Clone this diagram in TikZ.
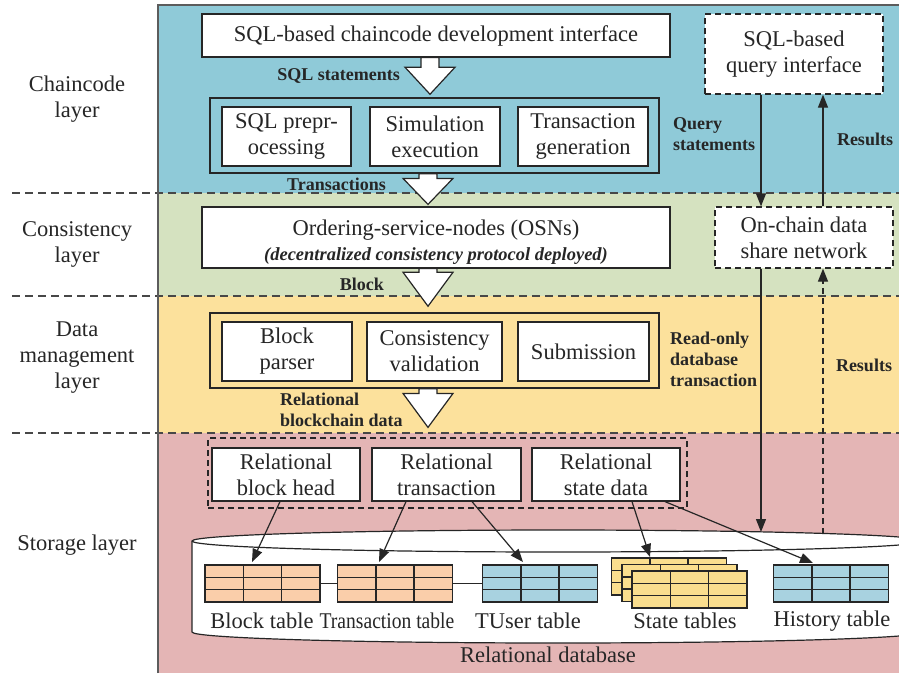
\documentclass[tikz,border=0pt]{standalone}
\usepackage{fontspec}
\setmainfont{Liberation Serif}
\usetikzlibrary{calc,arrows.meta}

\definecolor{chainbg}{RGB}{143,202,216}
\definecolor{consbg}{RGB}{213,226,192}
\definecolor{mgmtbg}{RGB}{252,225,156}
\definecolor{storebg}{RGB}{228,181,181}
\definecolor{peach}{RGB}{250,206,170}
\definecolor{skyblue}{RGB}{168,210,224}
\definecolor{straw}{RGB}{250,222,142}
\definecolor{ink}{RGB}{38,38,38}

% white block arrow pointing down: #1 shaft top, #2 tip, #3 head length
\newcommand\bigdownarrow[3]{%
  \draw[bigarrow] ($(#1)+(-9,0)$) -- ($(#2)+(-9,-#3)$) -- ($(#2)+(-25,-#3)$)
    -- (#2) -- ($(#2)+(25,-#3)$) -- ($(#2)+(9,-#3)$) -- ($(#1)+(9,0)$) -- cycle;}

\begin{document}
\begin{tikzpicture}[x=1pt,y=-1pt,
  every node/.style={text=ink},
  mainfont/.style={font=\fontsize{22.5}{26}\selectfont},
  box/.style={draw=ink, fill=white, line width=1.2pt, align=center, inner sep=0pt, mainfont},
  dbox/.style={box, dash pattern=on 6pt off 4pt},
  grpbox/.style={draw=ink, line width=1.5pt, inner sep=0pt},
  dgrpbox/.style={draw=ink, line width=1.2pt, dash pattern=on 6pt off 4pt, inner sep=0pt},
  boldtag/.style={font=\fontsize{18}{21}\selectfont\bfseries, inner sep=0pt, align=left},
  layerlbl/.style={mainfont, align=center, inner sep=0pt},
  plainlbl/.style={mainfont, inner sep=0pt},
  layerline/.style={draw=ink!85, line width=1.2pt, dash pattern=on 8pt off 5pt},
  arr/.style={draw=ink, line width=1.2pt, -{Triangle[length=13pt,width=10pt]}},
  darr/.style={arr, dash pattern=on 6pt off 4pt},
  bigarrow/.style={draw=ink, fill=white, line width=1.2pt, line join=miter},
  tbl/.style={draw=ink, line width=1.4pt, minimum width=115, minimum height=37,
    inner sep=0pt, outer sep=0pt,
    path picture={
      \foreach \f in {1,2}{
        \draw[ink, line width=1.4pt]
          ($(path picture bounding box.north west)!\f/3!(path picture bounding box.north east)$) --
          ($(path picture bounding box.south west)!\f/3!(path picture bounding box.south east)$);
        \draw[ink, line width=1.4pt]
          ($(path picture bounding box.north west)!\f/3!(path picture bounding box.south west)$) --
          ($(path picture bounding box.north east)!\f/3!(path picture bounding box.south east)$);
      }}},
]
\useasboundingbox (0,0) rectangle (899,673);

\begin{scope}
  \clip (0,0) rectangle (899,673);
  % layer bands
  \fill[chainbg] (158,5) rectangle (899,193);
  \fill[consbg]  (158,193) rectangle (899,296);
  \fill[mgmtbg]  (158,296) rectangle (899,433);
  \fill[storebg] (158,433) rectangle (899,673);
  % layer separators
  \draw[layerline] (12,193) -- (899,193);
  \draw[layerline] (12,296) -- (899,296);
  \draw[layerline] (12,433) -- (899,433);
  % panel frame
  \draw[ink!75, line width=1.4pt] (158,673) -- (158,5) -- (899,5);
  % relational database cylinder
  \filldraw[fill=white, draw=ink, line width=1.2pt]
    (192,541) -- (192,632) arc[start angle=180, end angle=0, x radius=366, y radius=11]
    -- (924,541) arc[start angle=0, end angle=-180, x radius=366, y radius=11] -- cycle;
  \draw[ink, line width=1.2pt] (192,541) arc[start angle=180, end angle=0, x radius=366, y radius=11];
\end{scope}
\coordinate (dbq) at (761,532);
\coordinate (dbr) at (823,533.5);
\coordinate (qx) at (761,0);
\coordinate (rx) at (823,0);

% layer names
\node[layerlbl] (lchain) at (77,99) {Chaincode\\layer};
\node[layerlbl] (lcons)  at (77,244) {Consistency\\layer};
\node[layerlbl] (ldata)  at (77,358) {Data\\management\\layer};
\node[layerlbl] (lstore) at (77,545) {Storage layer};

% chaincode layer
\node[box, minimum width=468, minimum height=43] (devif) at (436,35.5) {SQL-based chaincode development interface};
\node[grpbox, minimum width=449, minimum height=75] (grp1) at (434.5,135.5) {};
\node[box, minimum width=129, minimum height=59] (sqlpre) at (286.5,136.5) {SQL prepr-\\ocessing};
\node[box, minimum width=130, minimum height=59] (simexe) at (435,136.5) {Simulation\\execution};
\node[box, minimum width=130, minimum height=59] (txgen)  at (583,136.5) {Transaction\\generation};
\node[dbox, minimum width=178, minimum height=80] (query) at (794,54) {SQL-based\\query interface};

% consistency layer
\node[box, minimum width=468, minimum height=61] (osn) at (436,237.5) {};
\node[plainlbl] (osnname) at (436,230) {Ordering-service-nodes (OSNs)};
\node[inner sep=0pt, font=\fontsize{18.5}{20}\selectfont\bfseries\itshape] (osnnote) at (436,256)
  {(decentralized consistency protocol deployed)};
\node[dbox, minimum width=178, minimum height=61] (onchain) at (804,237.5) {On-chain data\\share network};

% data management layer
\node[grpbox, minimum width=449, minimum height=75] (grp2) at (434.5,350.5) {};
\node[box, minimum width=130, minimum height=59] (parser) at (287,351.5) {Block\\parser};
\node[box, minimum width=135, minimum height=59] (valid)  at (434.5,351.5) {Consistency\\validation};
\node[box, minimum width=131, minimum height=59] (submit) at (583.5,351.5) {Submission};

% storage layer
\node[dgrpbox, minimum width=479, minimum height=70] (grp3) at (447.5,473) {};
\node[box, minimum width=148, minimum height=53] (rhead)  at (286,474.5) {Relational\\block head};
\node[box, minimum width=149, minimum height=53] (rtx)    at (446.5,474.5) {Relational\\transaction};
\node[box, minimum width=148, minimum height=53] (rstate) at (606,474.5) {Relational\\state data};

% tables
\node[tbl, fill=peach]   (tblock)  at (262.5,583.5) {};
\node[tbl, fill=peach]   (ttrans)  at (395,583.5) {};
\node[tbl, fill=skyblue] (ttuser)  at (540,583.5) {};
\node[tbl, fill=straw]   (tstate3) at (669,576.5) {};
\node[tbl, fill=straw]   (tstate2) at (679.5,583) {};
\node[tbl, fill=straw]   (tstate1) at (689.5,589.5) {};
\node[tbl, fill=skyblue] (thist)   at (831,583.5) {};
\draw[ink, line width=1.2pt] (tblock.east) -- (ttrans.west);
\draw[ink, line width=1.2pt] (ttrans.east) -- (ttuser.west);

\node[plainlbl] (lblock) at (262,621) {Block table};
\node[plainlbl] (ltrans) at (387,621) {\scalebox{0.87}[1]{Transaction table}};
\node[plainlbl] (ltuser) at (528,621) {TUser table};
\node[plainlbl] (lstate) at (685,621) {State tables};
\node[plainlbl] (lhist)  at (832,621) {History table};
\node[plainlbl] (ldb)    at (548,655) {Relational database};

% block arrows between stages
\coordinate (a1s) at ($(devif.south)+(-6,0)$);
\coordinate (a1t) at ($(grp1.north)+(-4.5,-3)$);
\bigdownarrow{a1s}{a1t}{27}
\coordinate (a2s) at ($(grp1.south)+(-6.5,0)$);
\coordinate (a2t) at ($(osn.north)+(-8,-2)$);
\bigdownarrow{a2s}{a2t}{26}
\coordinate (a3s) at ($(osn.south)+(-8,0)$);
\coordinate (a3t) at ($(grp2.north)+(-6.5,-6)$);
\bigdownarrow{a3s}{a3t}{34}
\coordinate (a4s) at ($(grp2.south)+(-6.5,0)$);
\coordinate (a4t) at ($(grp3.north)+(-19.5,-10)$);
\bigdownarrow{a4s}{a4t}{34}

% stage labels
\node[boldtag, anchor=east] (tsql) at (400,76) {SQL statements};
\node[boldtag, anchor=east] (ttx)  at (386,184) {Transactions};
\node[boldtag, anchor=east] (tblk) at (384,284) {Block};
\node[boldtag, anchor=west] (trel) at (280,410) {Relational\\blockchain data};
\node[boldtag, anchor=west] (tqry) at (673,134) {Query\\statements};
\node[boldtag] (tres1) at (865,139) {Results};
\node[boldtag, anchor=west] (tro)  at (670,359) {Read-only\\database\\transaction};
\node[boldtag] (tres2) at (864,365) {Results};

% query path
\draw[arr] (query.south -| qx) -- (onchain.north -| qx);
\draw[arr] (onchain.north -| rx) -- (query.south -| rx);
\draw[arr] (onchain.south -| qx) -- (dbq);
\draw[darr] (dbr) -- (onchain.south -| rx);

% relational data into tables
\draw[arr] ($(rhead.south)+(-6,0)$) -- ($(tblock.north)+(-10.5,-3)$);
\draw[arr] ($(rtx.south)+(-40.5,0)$) -- ($(ttrans.north)+(-16,-3)$);
\draw[arr] ($(rtx.south)+(25.5,0)$) -- ($(ttuser.north)+(-17,-3)$);
\draw[arr] ($(rstate.south)+(26,0)$) -- ($(tstate3.north)+(-19,-1)$);
\draw[arr] ($(rstate.south)+(59,0)$) -- ($(thist.north)+(-18,-2)$);
\end{tikzpicture}
\end{document}
